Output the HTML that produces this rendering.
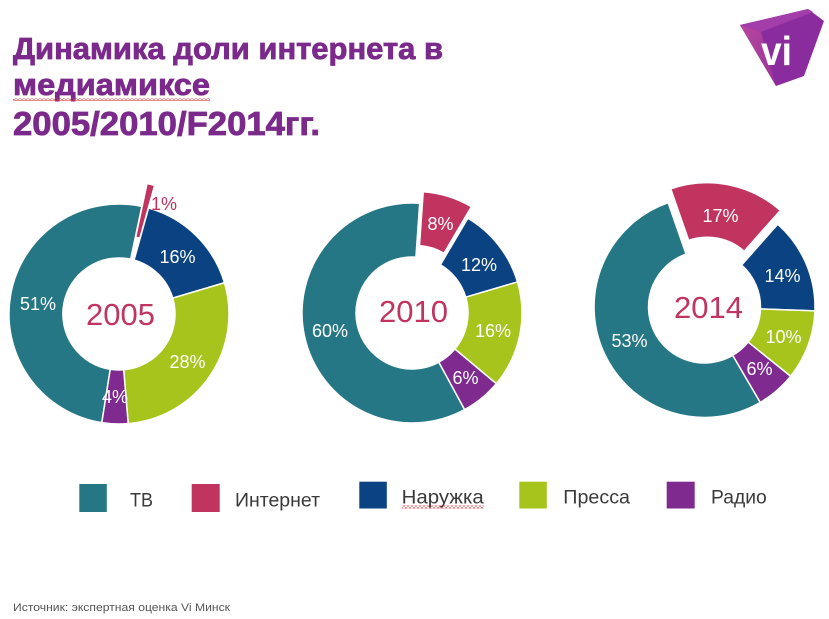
<!DOCTYPE html>
<html>
<head>
<meta charset="utf-8">
<style>
  html,body{margin:0;padding:0;background:#fff;}
  svg{display:block;}
  text{font-family:"Liberation Sans","DejaVu Sans",sans-serif;}
</style>
</head>
<body>
<svg width="829" height="619" viewBox="0 0 829 619" xmlns="http://www.w3.org/2000/svg">
  <defs>
    <pattern id="wave" x="0" y="0" width="4" height="3" patternUnits="userSpaceOnUse">
      <polyline points="0,2.5 2,0.5 4,2.5" fill="none" stroke="#e0303a" stroke-width="0.8"/>
    </pattern>
    <linearGradient id="lf" x1="0" y1="0" x2="1" y2="1">
      <stop offset="0" stop-color="#b7479f"/>
      <stop offset="1" stop-color="#9a3399"/>
    </linearGradient>
  </defs>
  <rect width="829" height="619" fill="#fff"/>

  <!-- Title -->
  <g fill="#7B2A8C" stroke="#7B2A8C" stroke-width="0.8" font-weight="bold">
    <text x="13" y="59" font-size="31" textLength="430" lengthAdjust="spacingAndGlyphs">Динамика доли интернета в</text>
    <text x="13" y="95" font-size="31" textLength="197" lengthAdjust="spacingAndGlyphs">медиамиксе</text>
    <text x="13" y="135" font-size="33" textLength="307" lengthAdjust="spacingAndGlyphs">2005/2010/F2014гг.</text>
  </g>
  <rect x="13" y="98" width="197" height="3" fill="url(#wave)"/>

  <!-- Logo -->
  <polygon points="740,25 808,9 824,21 804,76 776,86" fill="#8a2c9e"/>
  <polygon points="740,25 808,9 813,12 761,32" fill="#a23daa"/>
  <polygon points="740,25 761,32 776,86" fill="url(#lf)"/>
  <text x="761" y="65" font-size="41" font-weight="bold" fill="#fff" textLength="31" lengthAdjust="spacingAndGlyphs">vi</text>

  <!-- 2005 donut -->
  <g stroke="#fff" stroke-width="1.5" stroke-linejoin="round">
    <path d="M101.80,422.65 A110,110 0 1 1 141.87,206.41 L130.64,259.23 A56,56 0 1 0 110.24,369.31 Z" fill="#267785"/>
    <path d="M148.58,208.05 A110,110 0 0 1 224.47,282.76 L172.69,298.10 A56,56 0 0 0 134.06,260.06 Z" fill="#0B4382"/>
    <path d="M224.47,282.76 A110,110 0 0 1 128.21,423.62 L123.69,369.80 A56,56 0 0 0 172.69,298.10 Z" fill="#A6C41B"/>
    <path d="M128.21,423.62 A110,110 0 0 1 101.80,422.65 L110.24,369.31 A56,56 0 0 0 123.69,369.80 Z" fill="#7F2A8E"/>
  </g>
  <path transform="translate(5.5,-22.3)" d="M141.87,206.41 A110,110 0 0 1 148.58,208.05 L134.06,260.06 A56,56 0 0 0 130.64,259.23 Z" fill="#C0345F" stroke="#fff" stroke-width="0.6"/>
  <g font-size="18" text-anchor="middle" fill="#fff">
    <text x="164" y="210" fill="#C0345F">1%</text>
    <text x="177.5" y="263">16%</text>
    <text x="38" y="310">51%</text>
    <text x="187.5" y="368">28%</text>
    <text x="115" y="403">4%</text>
  </g>
  <text x="120.5" y="325" font-size="31" text-anchor="middle" fill="#C0345F">2005</text>

  <!-- 2010 donut -->
  <g stroke="#fff" stroke-width="1.5" stroke-linejoin="round">
    <path d="M464.66,409.58 A110,110 0 1 1 419.68,203.26 L415.91,257.13 A56,56 0 1 0 438.81,362.17 Z" fill="#267785"/>
    <path transform="translate(3.56,-11.46)" d="M419.68,203.26 A110,110 0 0 1 467.83,218.22 L440.42,264.75 A56,56 0 0 0 415.91,257.13 Z" fill="#C0345F"/>
    <path d="M467.83,218.22 A110,110 0 0 1 517.52,281.95 L465.72,297.19 A56,56 0 0 0 440.42,264.75 Z" fill="#0B4382"/>
    <path d="M517.52,281.95 A110,110 0 0 1 496.26,383.71 L454.90,349.00 A56,56 0 0 0 465.72,297.19 Z" fill="#A6C41B"/>
    <path d="M496.26,383.71 A110,110 0 0 1 464.66,409.58 L438.81,362.17 A56,56 0 0 0 454.90,349.00 Z" fill="#7F2A8E"/>
  </g>
  <g font-size="18" text-anchor="middle" fill="#fff">
    <text x="440.5" y="230">8%</text>
    <text x="479" y="271">12%</text>
    <text x="493" y="337">16%</text>
    <text x="330" y="337">60%</text>
    <text x="465.5" y="384">6%</text>
  </g>
  <text x="413.5" y="322" font-size="31" text-anchor="middle" fill="#C0345F">2010</text>

  <!-- 2014 donut -->
  <g stroke="#fff" stroke-width="1.5" stroke-linejoin="round">
    <path d="M760.25,402.41 A110.5,110.5 0 1 1 668.16,202.64 L686.08,254.11 A56,56 0 1 0 732.75,355.35 Z" fill="#267785"/>
    <path transform="translate(2.59,-13.76)" d="M668.16,202.64 A110.5,110.5 0 0 1 777.72,224.24 L741.61,265.06 A56,56 0 0 0 686.08,254.11 Z" fill="#C0345F"/>
    <path d="M777.72,224.24 A110.5,110.5 0 0 1 814.93,310.86 L760.47,308.95 A56,56 0 0 0 741.61,265.06 Z" fill="#0B4382"/>
    <path d="M814.93,310.86 A110.5,110.5 0 0 1 790.61,376.24 L748.14,342.09 A56,56 0 0 0 760.47,308.95 Z" fill="#A6C41B"/>
    <path d="M790.61,376.24 A110.5,110.5 0 0 1 760.25,402.41 L732.75,355.35 A56,56 0 0 0 748.14,342.09 Z" fill="#7F2A8E"/>
  </g>
  <g font-size="18" text-anchor="middle" fill="#fff">
    <text x="720.5" y="222">17%</text>
    <text x="782.5" y="282">14%</text>
    <text x="783.5" y="343">10%</text>
    <text x="629.5" y="347">53%</text>
    <text x="759.5" y="375">6%</text>
  </g>
  <text x="708.5" y="318" font-size="31" text-anchor="middle" fill="#C0345F">2014</text>

  <!-- Legend -->
  <rect x="79.3" y="484" width="27.5" height="28" fill="#267785"/>
  <rect x="191.7" y="484" width="28" height="28" fill="#C0345F"/>
  <rect x="359.3" y="481.7" width="27.5" height="26.8" fill="#0B4382"/>
  <rect x="519.3" y="481.7" width="27.5" height="26.8" fill="#A6C41B"/>
  <rect x="666.7" y="481.7" width="28" height="26.8" fill="#7F2A8E"/>
  <g font-size="19" fill="#3a3a3a">
    <text x="130" y="506.5" textLength="23" lengthAdjust="spacingAndGlyphs">ТВ</text>
    <text x="235" y="506.5" textLength="85" lengthAdjust="spacingAndGlyphs">Интернет</text>
    <text x="401.7" y="503.3" textLength="82" lengthAdjust="spacingAndGlyphs">Наружка</text>
    <text x="563.3" y="503.3" textLength="66.7" lengthAdjust="spacingAndGlyphs">Пресса</text>
    <text x="711" y="503.3" textLength="55.7" lengthAdjust="spacingAndGlyphs">Радио</text>
  </g>
  <rect x="401.7" y="505.5" width="82" height="3" fill="url(#wave)"/>

  <!-- Source -->
  <text x="13" y="611" font-size="11" fill="#555" textLength="217" lengthAdjust="spacingAndGlyphs">Источник: экспертная оценка Vi Минск</text>
</svg>
</body>
</html>
